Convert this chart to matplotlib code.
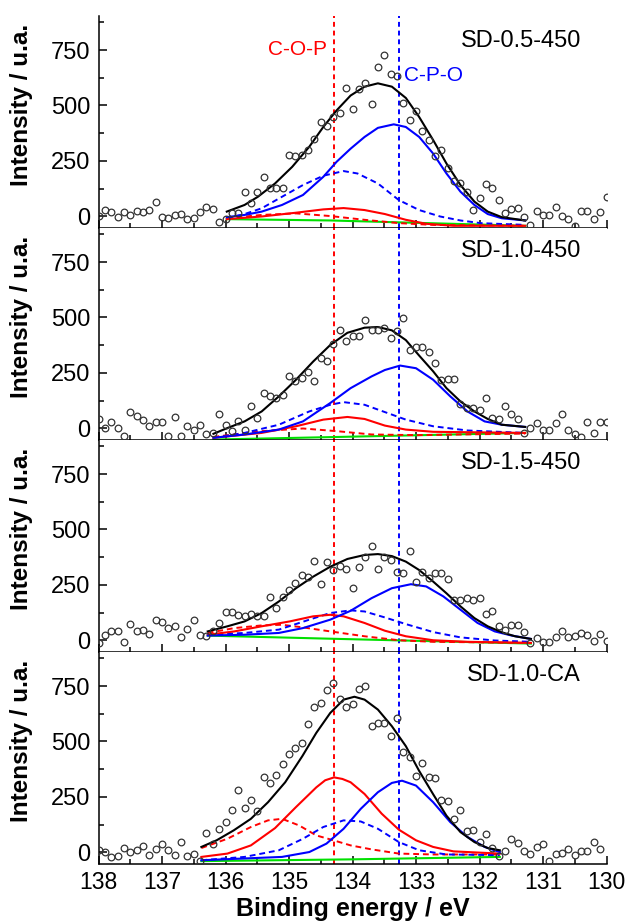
import numpy as np
import matplotlib
matplotlib.use("Agg")
import matplotlib.pyplot as plt
from matplotlib.ticker import MultipleLocator

plt.rcParams['font.family'] = ['Liberation Sans', 'DejaVu Sans']

# ---- data ----
samples = ["SD-0.5-450", "SD-1.0-450", "SD-1.5-450", "SD-1.0-CA"]

# measured points (binding energy step 0.1 eV from 138.0 eV)
raw_05 = [0, 28, 19, -4, 18, 7, 22, 18, 30, 63, -4, -7, 7, 10, -12, -10, 19, 43, 33, -25,
          -13, 16, 13, 109, 61, 109, 178, 127, 127, 127, 275, 272, 277, 301, 347, 425, 407, 448, 466, 581,
          482, 573, 600, 507, 672, 726, 642, 635, 513, 436, 475, 383, 344, 274, 298, 220, 160, 151, 111, 28,
          81, 144, 126, 72, 13, 31, 39, -5, -39, 25, 7, 7, 40, -1, -12, -46, 25, 25, -12, 18, 88]
raw_10 = [42, 1, 30, 0, -37, 73, 57, 36, 10, 30, 30, -37, 49, -37, 10, -9, 16, -25, -20, 64,
          16, -13, 31, -7, 102, 48, 159, 147, 138, 151, 237, 213, 229, 256, 213, 316, 302, 380, 443, 392,
          416, 418, 487, 442, 442, 454, 409, 439, 499, 352, 367, 367, 343, 293, 217, 222, 222, 111, 90, 91,
          84, 136, 46, 43, 99, 64, 43, -21, 0, 24, -6, -6, 24, 66, -7, -25, -40, 28, -21, 28, 28]
raw_15 = [-13, 25, 43, 40, -9, 73, 40, 48, 30, 91, 81, 55, 63, 15, 52, 91, 25, 18, 40, 76,
          126, 126, 115, 109, 118, 108, 109, 196, 145, 196, 225, 259, 293, 284, 358, 254, 355, 316, 335, 322,
          235, 332, 377, 425, 323, 376, 361, 307, 305, 401, 263, 310, 280, 302, 302, 277, 180, 183, 189, 180,
          190, 117, 133, 63, 45, 70, 70, 36, -13, 10, -10, -7, 15, 40, 15, 21, 34, 25, -4, 30, -4]
raw_ca = [8, 0, -20, -16, 17, 1, 8, 28, -12, 15, 36, 12, -12, 46, -16, -9, -39, 88, 38, 107,
          135, 190, 280, 199, 238, 184, 341, 313, 350, 397, 442, 470, 493, 579, 656, 672, 732, 762, 692, 654,
          669, 737, 751, 570, 582, 584, 525, 605, 451, 428, 346, 401, 341, 334, 238, 232, 151, 193, 95, 100,
          48, 81, 20, -15, 7, 59, 41, 7, -8, 23, 36, -38, -8, -5, 15, -12, 7, 7, 48, 14]
raw_data = [raw_05, raw_10, raw_15, raw_ca]

# fitted curves: (binding energy, intensity) pairs
env_e = [
    [135.98, 135.70, 135.49, 135.22, 134.95, 134.68, 134.46, 134.25, 134.03, 133.81, 133.60, 133.38,
     133.16, 132.95, 132.73, 132.52, 132.30, 132.08, 131.87, 131.65, 131.28],
    [136.19, 135.97, 135.70, 135.43, 135.16, 134.89, 134.62, 134.35, 134.08, 133.81, 133.60, 133.38,
     133.16, 132.95, 132.73, 132.52, 132.30, 132.08, 131.87, 131.65, 131.28],
    [136.28, 135.97, 135.70, 135.43, 135.16, 134.89, 134.62, 134.35, 134.08, 133.81, 133.60, 133.38,
     133.16, 132.95, 132.73, 132.52, 132.30, 132.08, 131.87, 131.65, 131.44, 131.19],
    [136.38, 136.14, 135.87, 135.60, 135.33, 135.06, 134.79, 134.57, 134.35, 134.14, 133.97, 133.81,
     133.60, 133.38, 133.16, 132.95, 132.73, 132.52, 132.30, 132.08, 131.87, 131.68],
]
env_i = [
    [21, 51, 88, 148, 223, 314, 403, 478, 545, 585, 600, 585, 534, 448, 344, 238, 141, 66, 21, -4, -19],
    [-25, 1, 31, 76, 144, 219, 301, 376, 431, 454, 457, 442, 398, 328, 257, 181, 121, 76, 42, 16, 6],
    [40, 63, 85, 123, 175, 235, 287, 332, 367, 385, 389, 380, 355, 317, 265, 212, 153, 100, 63, 36, 18, 6],
    [24, 54, 99, 151, 226, 316, 434, 539, 629, 689, 702, 689, 644, 569, 479, 367, 262, 165, 91, 46, 19, 9],
]

cpo_e = [
    [135.98, 135.70, 135.43, 135.11, 134.78, 134.46, 134.25, 134.03, 133.81, 133.60, 133.35, 133.16,
     132.95, 132.73, 132.52, 132.30, 132.08, 131.87, 131.65, 131.28],
    [136.19, 135.70, 135.16, 134.78, 134.35, 134.03, 133.70, 133.49, 133.25, 133.00, 132.73, 132.46,
     132.19, 131.92, 131.65, 131.28],
    [136.28, 135.70, 135.16, 134.78, 134.35, 134.03, 133.70, 133.38, 133.08, 132.84, 132.57, 132.30,
     132.03, 131.76, 131.49, 131.19],
    [136.38, 135.70, 135.11, 134.68, 134.41, 134.14, 133.87, 133.60, 133.38, 133.22, 133.00, 132.73,
     132.46, 132.19, 131.92, 131.68],
]
cpo_i = [
    [-4, 6, 21, 51, 96, 178, 246, 305, 358, 399, 415, 403, 358, 283, 193, 111, 51, 10, -9, -19],
    [-43, -28, -6, 31, 114, 181, 234, 263, 283, 271, 219, 144, 76, 31, 16, 6],
    [21, 25, 33, 55, 93, 133, 190, 235, 253, 243, 198, 138, 78, 40, 21, 6],
    [-36, -28, -21, 1, 39, 106, 196, 271, 313, 323, 301, 226, 136, 69, 24, 1],
]

cpo2_e = [
    [135.98, 135.70, 135.43, 135.11, 134.78, 134.46, 134.14, 133.92, 133.60, 133.27, 132.95, 132.62,
     132.30, 131.98, 131.28],
    [136.19, 135.70, 135.16, 134.68, 134.35, 134.14, 133.81, 133.49, 133.16, 132.73, 132.19, 131.28],
    [136.28, 135.70, 135.16, 134.68, 134.35, 134.03, 133.81, 133.49, 133.16, 132.73, 132.30, 131.76, 131.19],
    [136.38, 135.70, 135.16, 134.78, 134.46, 134.14, 133.87, 133.60, 133.27, 132.95, 132.52, 131.68],
]
cpo2_i = [
    [-9, 10, 36, 88, 141, 183, 204, 193, 148, 73, 28, -1, -19, -31, -39],
    [-43, -21, 16, 76, 106, 118, 106, 73, 39, 9, -10, -21],
    [25, 33, 48, 93, 123, 135, 130, 103, 73, 37, 13, -1, -7],
    [-36, -21, 9, 61, 114, 144, 139, 106, 46, 9, -10, -13],
]

cop_e = [
    [135.98, 135.43, 134.89, 134.46, 134.14, 133.81, 133.49, 133.16, 132.84, 132.41, 131.28],
    [136.19, 135.43, 134.89, 134.46, 134.08, 133.81, 133.49, 133.16, 132.73, 131.28],
    [136.28, 135.86, 135.43, 134.99, 134.62, 134.35, 134.14, 133.81, 133.49, 133.16, 132.73, 132.19, 131.19],
    [136.38, 135.97, 135.60, 135.22, 134.89, 134.57, 134.43, 134.29, 134.16, 134.03, 133.81, 133.54,
     133.27, 133.00, 132.73, 132.41, 131.68],
]
cop_i = [
    [-13, -1, 16, 31, 37, 28, 10, -16, -34, -43, -43],
    [-43, -21, 9, 39, 51, 42, 12, -6, -16, -21],
    [25, 40, 63, 85, 108, 115, 108, 78, 43, 18, 0, -7, -12],
    [-21, -6, 31, 109, 204, 293, 325, 338, 331, 316, 263, 174, 102, 54, 24, 4, -6],
]

cop2_e = [
    [135.98, 135.43, 134.89, 134.35, 133.81, 133.27, 132.73, 131.28],
    [136.19, 135.43, 134.78, 134.25, 133.70, 133.00, 131.28],
    [136.28, 135.86, 135.43, 135.11, 134.78, 134.35, 133.81, 133.27, 132.73, 131.19],
    [136.38, 135.97, 135.60, 135.33, 135.11, 134.84, 134.57, 134.30, 134.03, 133.70, 133.27, 132.73, 131.68],
]
cop2_i = [
    [-9, 6, 13, 1, -16, -31, -39, -43],
    [-39, -13, -1, -13, -28, -31, -24],
    [33, 55, 67, 70, 58, 40, 18, 0, -7, -12],
    [19, 61, 114, 144, 151, 121, 76, 54, 31, 13, -6, -10, -10],
]

base_e = [[135.98, 134.35, 131.28], [136.19, 134.35, 131.28], [136.28, 134.35, 131.19], [136.38, 134.0, 131.68]]
base_i = [[-13, -19, -43], [-51, -40, -21], [21, 7, -15], [-40, -32, -21]]

cop_line = 134.29
cpo_line = 133.27

RED = '#ff0000'
BLUE = '#0000ff'
GREEN = '#00e000'

fig = plt.figure(figsize=(6.28, 9.24), dpi=100)
W, H = 628.0, 924.0
left, right_px = 98.5, 606.5
bottom_px, top_px = 864.0, 16.0
ph = (bottom_px - top_px) / 4

axes = []
for k in range(4):
    b = bottom_px - (3 - k) * ph
    ax = fig.add_axes([left / W, 1 - b / H, (right_px - left) / W, ph / H])
    axes.append(ax)

for k, ax in enumerate(axes):
    raw = raw_data[k]
    e = 138.0 - 0.1 * np.arange(len(raw))
    ax.axvline(cop_line, color=RED, ls=(0, (2.5, 2)), lw=1.4, zorder=1)
    ax.axvline(cpo_line, color=BLUE, ls=(0, (2.5, 2)), lw=1.4, zorder=1)
    ax.plot(base_e[k], base_i[k], color=GREEN, lw=1.5, zorder=2)
    ax.plot(cop2_e[k], cop2_i[k], color=RED, lw=1.4, ls=(0, (3, 2)), zorder=3)
    ax.plot(cpo2_e[k], cpo2_i[k], color=BLUE, lw=1.4, ls=(0, (3, 2)), zorder=3)
    ax.plot(cop_e[k], cop_i[k], color=RED, lw=1.5, zorder=4)
    ax.plot(cpo_e[k], cpo_i[k], color=BLUE, lw=1.5, zorder=4)
    ax.plot(env_e[k], env_i[k], color='black', lw=1.5, zorder=5)
    ax.plot(e, raw, 'o', mfc='none', mec='#333333', ms=4.8, mew=0.9, zorder=6)

    ax.set_xlim(138, 130)
    ax.set_ylim(-53, 904)
    ax.xaxis.set_major_locator(MultipleLocator(1))
    ax.xaxis.set_minor_locator(MultipleLocator(0.5))
    ax.yaxis.set_major_locator(MultipleLocator(250))
    ax.yaxis.set_minor_locator(MultipleLocator(125))
    ax.tick_params(which='both', direction='in', width=1.1)
    ax.tick_params(which='major', length=6)
    ax.tick_params(which='minor', length=3.5)
    ax.tick_params(axis='y', pad=6, labelsize=17)
    ax.tick_params(axis='x', labelsize=16.5)
    ax.spines['top'].set_visible(False)
    ax.spines['right'].set_visible(False)
    for s in ['left', 'bottom']:
        ax.spines[s].set_linewidth(1.1)
    ax.set_yticks([0, 250, 500, 750])
    ax.set_ylabel("Intensity / u.a.", fontsize=17.5, fontweight='bold')
    ax.yaxis.set_label_coords(-0.129, 0.58)
    ax.text(130.4, 800 if k else 790, samples[k], fontsize=17, ha='right', va='center')
    if k < 3:
        ax.tick_params(axis='x', labelbottom=False)
    else:
        ax.tick_params(axis='x', pad=5)
        ax.set_xlabel("Binding energy / eV", fontsize=18, fontweight='bold', labelpad=2)

axes[0].text(134.40, 754, "C-O-P", color=RED, fontsize=15, ha='right', va='center')
axes[0].text(133.19, 635, "C-P-O", color=BLUE, fontsize=15, ha='left', va='center')

fig.savefig("out.png", dpi=100)
